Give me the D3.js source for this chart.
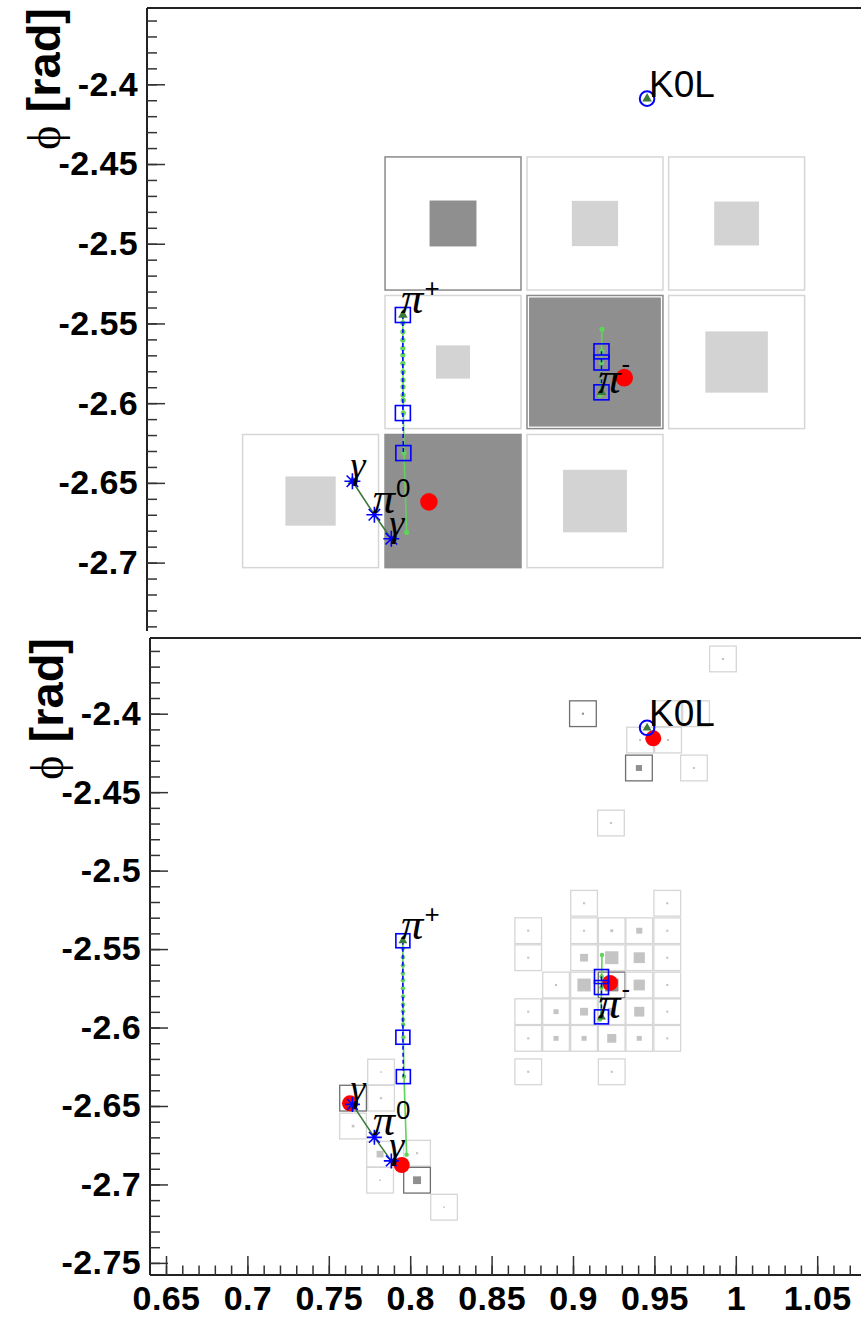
<!DOCTYPE html>
<html>
<head>
<meta charset="utf-8">
<script src="https://cdn.jsdelivr.net/npm/d3@7"></script>
<style>
  body { margin: 0; background: #fff; }
  svg { display: block; }
</style>
</head>
<body>
<div id="chart"></div>
<script>
// ---------- data ----------
const etaTicks = [0.65, 0.7, 0.75, 0.8, 0.85, 0.9, 0.95, 1.0, 1.05];
const etaTickLabels = ['0.65', '0.7', '0.75', '0.8', '0.85', '0.9', '0.95', '1', '1.05'];
const phiTicksTop = [-2.4, -2.45, -2.5, -2.55, -2.6, -2.65, -2.7];
const phiTicksBottom = [-2.4, -2.45, -2.5, -2.55, -2.6, -2.65, -2.7, -2.75];
const phiTickLabels = ['-2.4', '-2.45', '-2.5', '-2.55', '-2.6', '-2.65', '-2.7', '-2.75'];

// HCAL towers (top pad): e = relative energy box, seed = highlighted tower
const hcalCells = [
  {eta: 0.8263, phi: -2.4873, e: 0.345, seed: true},
  {eta: 0.9135, phi: -2.4873, e: 0.34,  seed: false},
  {eta: 1.0005, phi: -2.4873, e: 0.33,  seed: false},
  {eta: 0.8263, phi: -2.5742, e: 0.25,  seed: false},
  {eta: 0.9135, phi: -2.5742, e: 0.97,  seed: true},
  {eta: 1.0005, phi: -2.5742, e: 0.46,  seed: false},
  {eta: 0.7388, phi: -2.6614, e: 0.37,  seed: false},
  {eta: 0.8263, phi: -2.6614, e: 1.0,   seed: true},
  {eta: 0.9135, phi: -2.6614, e: 0.47,  seed: false}
];

// ECAL crystals (bottom pad)
const ecalCells = [
  {eta: 0.9921, phi: -2.3651, e: 0.08, seed: false},
  {eta: 0.9061, phi: -2.4000, e: 0.08, seed: true},
  {eta: 0.9584, phi: -2.4000, e: 0.0,  seed: false},
  {eta: 0.9756, phi: -2.4000, e: 0.0,  seed: false},
  {eta: 0.9412, phi: -2.4168, e: 0.08, seed: false},
  {eta: 0.9584, phi: -2.4168, e: 0.08, seed: false},
  {eta: 0.9405, phi: -2.4346, e: 0.23, seed: true},
  {eta: 0.9743, phi: -2.4346, e: 0.08, seed: false},
  {eta: 0.9233, phi: -2.4697, e: 0.08, seed: false},

  {eta: 0.9068, phi: -2.5208, e: 0.08, seed: false},
  {eta: 0.9579, phi: -2.5208, e: 0.08, seed: false},
  {eta: 0.8725, phi: -2.5383, e: 0.08, seed: false},
  {eta: 0.9068, phi: -2.5383, e: 0.08, seed: false},
  {eta: 0.9238, phi: -2.5383, e: 0.11, seed: false},
  {eta: 0.9407, phi: -2.5383, e: 0.23, seed: false},
  {eta: 0.9579, phi: -2.5383, e: 0.08, seed: false},
  {eta: 0.8725, phi: -2.5555, e: 0.08, seed: false},
  {eta: 0.9068, phi: -2.5555, e: 0.30, seed: false},
  {eta: 0.9238, phi: -2.5555, e: 0.50, seed: false},
  {eta: 0.9407, phi: -2.5555, e: 0.42, seed: false},
  {eta: 0.9579, phi: -2.5555, e: 0.08, seed: false},
  {eta: 0.8896, phi: -2.5729, e: 0.08, seed: false},
  {eta: 0.9068, phi: -2.5729, e: 0.50, seed: false},
  {eta: 0.9238, phi: -2.5729, e: 0.50, seed: true},
  {eta: 0.9407, phi: -2.5729, e: 0.42, seed: false},
  {eta: 0.9579, phi: -2.5729, e: 0.08, seed: false},
  {eta: 0.8725, phi: -2.5899, e: 0.08, seed: false},
  {eta: 0.8896, phi: -2.5899, e: 0.19, seed: false},
  {eta: 0.9068, phi: -2.5899, e: 0.30, seed: false},
  {eta: 0.9238, phi: -2.5899, e: 0.30, seed: false},
  {eta: 0.9407, phi: -2.5899, e: 0.38, seed: false},
  {eta: 0.9579, phi: -2.5899, e: 0.08, seed: false},
  {eta: 0.8725, phi: -2.6069, e: 0.08, seed: false},
  {eta: 0.8896, phi: -2.6069, e: 0.19, seed: false},
  {eta: 0.9068, phi: -2.6069, e: 0.19, seed: false},
  {eta: 0.9238, phi: -2.6069, e: 0.34, seed: false},
  {eta: 0.9407, phi: -2.6069, e: 0.19, seed: false},
  {eta: 0.9579, phi: -2.6069, e: 0.08, seed: false},
  {eta: 0.8725, phi: -2.6282, e: 0.08, seed: false},
  {eta: 0.9238, phi: -2.6282, e: 0.08, seed: false},

  {eta: 0.7821, phi: -2.6284, e: 0.06, seed: false},
  {eta: 0.7649, phi: -2.6450, e: 0.08, seed: true},
  {eta: 0.7821, phi: -2.6450, e: 0.08, seed: false},
  {eta: 0.7649, phi: -2.6628, e: 0.10, seed: false},
  {eta: 0.7815, phi: -2.6807, e: 0.26, seed: false},
  {eta: 0.7815, phi: -2.6973, e: 0.06, seed: false},
  {eta: 0.8042, phi: -2.6801, e: 0.08, seed: false},
  {eta: 0.8042, phi: -2.6973, e: 0.30, seed: true},
  {eta: 0.8208, phi: -2.7145, e: 0.06, seed: false}
];

// clusters (red dots)
const hcalClusters = [
  {eta: 0.8115, phi: -2.6619},
  {eta: 0.9315, phi: -2.5840}
];
const ecalClusters = [
  {eta: 0.9493, phi: -2.4157},
  {eta: 0.9227, phi: -2.5716},
  {eta: 0.7630, phi: -2.6483},
  {eta: 0.7948, phi: -2.6876}
];

// charged tracks: measured hits (blue squares) and extrapolated points (green)
const piPlusHits = [
  {eta: 0.7955, phi: -2.5447},
  {eta: 0.7955, phi: -2.6062},
  {eta: 0.7958, phi: -2.6313}
];
const piPlusPoints = [
  {eta: 0.7955, phi: -2.5447}, {eta: 0.7955, phi: -2.5497}, {eta: 0.7955, phi: -2.5552},
  {eta: 0.7955, phi: -2.5604}, {eta: 0.7955, phi: -2.5656}, {eta: 0.7955, phi: -2.5698},
  {eta: 0.7955, phi: -2.5750}, {eta: 0.7956, phi: -2.5803}, {eta: 0.7956, phi: -2.5855},
  {eta: 0.7956, phi: -2.5897}, {eta: 0.7956, phi: -2.5949}, {eta: 0.7957, phi: -2.5981},
  {eta: 0.7958, phi: -2.6062}, {eta: 0.7962, phi: -2.6313}, {eta: 0.7978, phi: -2.6810}
];
const piMinusHits = [
  {eta: 0.9175, phi: -2.5675},
  {eta: 0.9175, phi: -2.5745},
  {eta: 0.9175, phi: -2.5932}
];
const piMinusPoints = [
  {eta: 0.9178, phi: -2.5537}, {eta: 0.9176, phi: -2.5675}, {eta: 0.9175, phi: -2.5745},
  {eta: 0.9172, phi: -2.5932}, {eta: 0.9166, phi: -2.5949}
];

// neutral particles
const photons = [
  {eta: 0.7645, phi: -2.6490},
  {eta: 0.7884, phi: -2.6850}
];
const pi0 = {eta: 0.7780, phi: -2.6700};
const k0l = {eta: 0.9455, phi: -2.4090};

const labels = [
  {text: 'K0L', sup: '', at: k0l, kind: 'sans'},
  {text: '\u03c0', sup: '+', at: piPlusHits[0], kind: 'greek'},
  {text: '\u03c0', sup: '-', at: piMinusPoints[4], kind: 'greek'},
  {text: '\u03b3', sup: '', at: photons[0], kind: 'gamma'},
  {text: '\u03c0', sup: '0', at: pi0, kind: 'greek'},
  {text: '\u03b3', sup: '', at: photons[1], kind: 'gamma'}
];

// ---------- layout ----------
const W = 861, H = 1317;
const BLUE = '#0000ff', RED = '#ff0000', LGREEN = '#5fd35a', DGREEN = '#3b7a3b';

const x = d3.scaleLinear().domain([0.65, 1.05]).range([166, 817.2]);
const yTop = d3.scaleLinear().domain([-2.4, -2.7]).range([84.3, 562.6]);
const yBot = d3.scaleLinear().domain([-2.4, -2.75]).range([713.7, 1262.9]);

const svg = d3.select('#chart').append('svg')
  .attr('width', W).attr('height', H)
  .style('background', '#fff');

const defs = svg.append('defs');

function drawPanel(cfg) {
  const y = cfg.y;
  const g = svg.append('g');

  g.append('rect').attr('x', 0).attr('y', cfg.padTop).attr('width', W).attr('height', H - cfg.padTop)
    .attr('fill', '#fff');

  defs.append('clipPath').attr('id', cfg.id)
    .append('rect').attr('x', cfg.left).attr('y', cfg.top)
    .attr('width', W - cfg.left).attr('height', cfg.bottom - cfg.top);

  const plot = g.append('g').attr('clip-path', `url(#${cfg.id})`);
  const s = cfg.cellSize;

  // cells
  const cell = plot.append('g').selectAll('g').data(cfg.cells).join('g');
  cell.append('rect')
    .attr('x', d => x(d.eta - s / 2))
    .attr('y', d => y(d.phi + s / 2))
    .attr('width', d => x(d.eta + s / 2) - x(d.eta - s / 2))
    .attr('height', d => y(d.phi - s / 2) - y(d.phi + s / 2))
    .attr('fill', '#fff')
    .attr('stroke', d => d.seed ? cfg.seedBorder : '#d6d6d6')
    .attr('stroke-width', cfg.cellStroke);
  cell.filter(d => d.e > 0).append('rect')
    .attr('x', d => x(d.eta - s * d.e / 2))
    .attr('y', d => y(d.phi + s * d.e / 2))
    .attr('width', d => x(d.eta + s * d.e / 2) - x(d.eta - s * d.e / 2))
    .attr('height', d => y(d.phi - s * d.e / 2) - y(d.phi + s * d.e / 2))
    .attr('fill', d => d.seed ? '#8f8f8f' : cfg.lightFill);

  // clusters
  plot.append('g').selectAll('circle').data(cfg.clusters).join('circle')
    .attr('cx', d => x(d.eta)).attr('cy', d => y(d.phi)).attr('r', cfg.redR)
    .attr('fill', RED);

  const line = d3.line().x(d => x(d.eta)).y(d => y(d.phi));

  // green extrapolations
  [piPlusPoints, piMinusPoints].forEach(pts => {
    plot.append('path').attr('d', line(pts)).attr('fill', 'none')
      .attr('stroke', LGREEN).attr('stroke-width', 1.6);
    plot.append('g').selectAll('circle').data(pts).join('circle')
      .attr('cx', d => x(d.eta)).attr('cy', d => y(d.phi)).attr('r', cfg.dotR)
      .attr('fill', LGREEN);
  });

  // blue dashed hit lines
  [piPlusHits, piMinusHits].forEach(pts => {
    plot.append('path').attr('d', line(pts)).attr('fill', 'none')
      .attr('stroke', BLUE).attr('stroke-width', 1.5).attr('stroke-dasharray', '4,3');
  });

  // photon pair line
  plot.append('path').attr('d', line([photons[0], pi0, photons[1]]))
    .attr('fill', 'none').attr('stroke', DGREEN).attr('stroke-width', 1.6);

  // dark green triangles
  const tri = d3.symbol().type(d3.symbolTriangle).size(cfg.triSize);
  plot.append('g').selectAll('path')
    .data([piPlusHits[0], piMinusHits[2], k0l, photons[0]]).join('path')
    .attr('d', tri)
    .attr('transform', d => `translate(${x(d.eta)},${y(d.phi)})`)
    .attr('fill', DGREEN);

  // hit squares
  const hs = cfg.squareSize;
  plot.append('g').selectAll('rect').data(piPlusHits.concat(piMinusHits)).join('rect')
    .attr('x', d => x(d.eta) - hs / 2).attr('y', d => y(d.phi) - hs / 2)
    .attr('width', hs).attr('height', hs)
    .attr('fill', 'none').attr('stroke', BLUE).attr('stroke-width', 1.6);

  // asterisk stars for photons / pi0
  const r = cfg.starR, rd = r * 0.72;
  const star = `M${-r},0L${r},0M0,${-r}L0,${r}M${-rd},${-rd}L${rd},${rd}M${-rd},${rd}L${rd},${-rd}`;
  plot.append('g').selectAll('path').data([photons[0], pi0, photons[1]]).join('path')
    .attr('d', star)
    .attr('transform', d => `translate(${x(d.eta)},${y(d.phi)})`)
    .attr('fill', 'none').attr('stroke', BLUE).attr('stroke-width', 1.6);

  // K0L open circle
  plot.append('circle').attr('cx', x(k0l.eta)).attr('cy', y(k0l.phi)).attr('r', 7.3)
    .attr('fill', 'none').attr('stroke', BLUE).attr('stroke-width', 2);

  // labels
  const lab = plot.append('g').selectAll('text').data(labels).join('text')
    .attr('x', d => x(d.at.eta) + (d.kind === 'sans' ? 2 : -2))
    .attr('y', d => y(d.at.phi) + (d.kind === 'gamma' ? -3 : -2))
    .attr('fill', '#000');
  lab.append('tspan')
    .attr('font-family', d => d.kind === 'sans' ? 'Liberation Sans, Arial, sans-serif' : 'Liberation Serif, Times New Roman, serif')
    .attr('font-style', d => d.kind === 'sans' ? 'normal' : 'italic')
    .attr('font-size', d => d.kind === 'sans' ? 37 : (d.kind === 'gamma' ? 38 : 45))
    .text(d => d.text);
  lab.filter(d => d.sup).append('tspan')
    .attr('font-family', 'Liberation Sans, Arial, sans-serif')
    .attr('font-size', 26)
    .attr('dy', d => d.sup === '-' ? -20 : -16)
    .attr('dx', 1)
    .text(d => d.sup);

  // frame
  g.append('line').attr('x1', cfg.left).attr('x2', W).attr('y1', cfg.top).attr('y2', cfg.top)
    .attr('stroke', '#222').attr('stroke-width', 2);
  g.append('line').attr('x1', cfg.left).attr('x2', cfg.left).attr('y1', cfg.top).attr('y2', cfg.bottom)
    .attr('stroke', '#222').attr('stroke-width', 2);

  // y axis ticks
  const ax = g.append('g').attr('transform', `translate(${cfg.left},0)`);
  const minor = d3.range(-2.36, cfg.minorEnd - 0.0001, -0.01);
  ax.append('g').call(d3.axisLeft(y).tickValues(minor).tickSize(-10).tickFormat(''))
    .call(a => a.select('.domain').remove())
    .selectAll('line').attr('stroke', '#333').attr('stroke-width', 1.5);
  const major = ax.append('g')
    .call(d3.axisLeft(y).tickValues(cfg.majors).tickSize(-18).tickPadding(9)
      .tickFormat((d, i) => phiTickLabels[i]))
    .attr('font-size', null).attr('font-family', null);
  major.select('.domain').remove();
  major.selectAll('line').attr('stroke', '#333').attr('stroke-width', 1.5);
  major.selectAll('text')
    .attr('font-family', 'Liberation Sans, Arial, sans-serif')
    .attr('font-weight', 'bold').attr('font-size', 34)
    .attr('letter-spacing', 0.4).attr('fill', '#000');

  // axis title
  const tt = g.append('text')
    .attr('transform', `translate(${cfg.titleX},${cfg.top}) rotate(-90)`)
    .attr('text-anchor', 'end').attr('fill', '#000');
  tt.append('tspan').attr('font-family', 'Liberation Serif, serif').attr('font-size', 46).text('\u03d5');
  tt.append('tspan').attr('font-family', 'Liberation Sans, Arial, sans-serif')
    .attr('font-weight', 'bold').attr('font-size', 47).text(' [rad]');

  return g;
}

drawPanel({
  id: 'clipTop', y: yTop, padTop: 0, left: 147, top: 8, bottom: 660,
  cells: hcalCells, cellSize: 0.0835, clusters: hcalClusters, redR: 8.8,
  seedBorder: '#8a8a8a', lightFill: '#d3d3d3', cellStroke: 1.5,
  dotR: 2.6, triSize: 40, squareSize: 15, starR: 8,
  majors: phiTicksTop, minorEnd: -2.75, titleX: 60
});

const bottom = drawPanel({
  id: 'clipBot', y: yBot, padTop: 631, left: 150, top: 638, bottom: 1275,
  cells: ecalCells, cellSize: 0.0164, clusters: ecalClusters, redR: 8,
  seedBorder: '#6f6f6f', lightFill: '#c4c4c4', cellStroke: 1.3,
  dotR: 2.2, triSize: 34, squareSize: 14, starR: 7.5,
  majors: phiTicksBottom, minorEnd: -2.75, titleX: 63
});

// bottom frame line and x axis
bottom.append('line').attr('x1', 150).attr('x2', W).attr('y1', 1275).attr('y2', 1275)
  .attr('stroke', '#222').attr('stroke-width', 2);
const xa = bottom.append('g').attr('transform', 'translate(0,1275)');
xa.append('g').call(d3.axisBottom(x).tickValues(d3.range(0.65, 1.085, 0.01)).tickSize(-9.5).tickFormat(''))
  .call(a => a.select('.domain').remove())
  .selectAll('line').attr('stroke', '#333').attr('stroke-width', 1.5);
const xm = xa.append('g')
  .call(d3.axisBottom(x).tickValues(etaTicks).tickSize(-19).tickPadding(11)
    .tickFormat((d, i) => etaTickLabels[i]))
  .attr('font-size', null).attr('font-family', null);
xm.select('.domain').remove();
xm.selectAll('line').attr('stroke', '#333').attr('stroke-width', 1.5);
xm.selectAll('text')
  .attr('font-family', 'Liberation Sans, Arial, sans-serif')
  .attr('font-weight', 'bold').attr('font-size', 34)
  .attr('letter-spacing', 0.4).attr('fill', '#000');
</script>
</body>
</html>
